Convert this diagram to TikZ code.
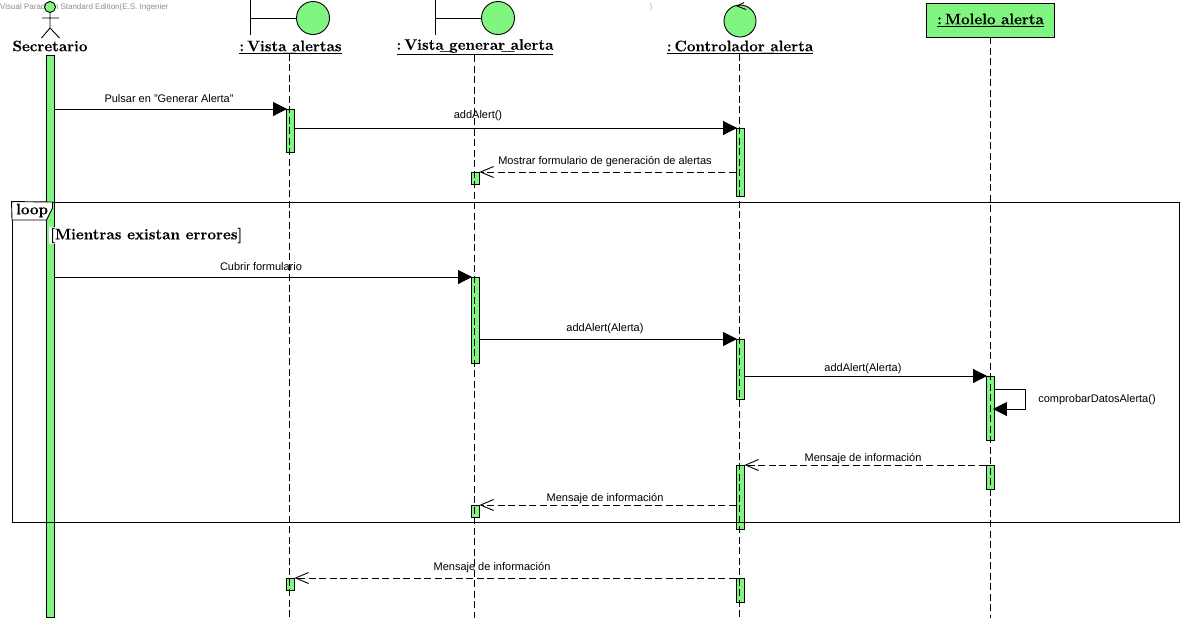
\documentclass[tikz,border=0pt]{standalone}
\usepackage{fontspec}
\setsansfont{Liberation Sans}
\newfontfamily\headfont{Latin Modern Roman}[BoldFeatures={FakeBold=0.35}]
\usepackage{xcolor}
\usetikzlibrary{positioning,calc,arrows.meta}
\definecolor{umlgreen}{HTML}{80F580}
\newcommand{\usc}{\makebox[5.5pt][c]{\smash{\_}}}
\newcommand{\colsp}{:\kern3pt}
\tikzset{
    bar/.style={draw,fill=umlgreen,line width=0.9pt,minimum width=8pt,inner sep=0pt,anchor=north},
    head/.style={inner sep=0pt,font=\headfont\bfseries\fontsize{15.2}{16}\selectfont},
    msgtext/.style={inner sep=0pt,font=\sffamily\fontsize{11}{12}\selectfont},
    lifeline/.style={dash pattern=on 7pt off 3.5pt,line width=0.9pt},
    call/.style={line width=0.9pt,-{Triangle[length=14pt,width=14pt]},shorten >=-1.5pt},
    reply/.style={line width=0.9pt,dash pattern=on 7pt off 3.5pt,-{Straight Barb[length=13pt,width=11pt]}},
    shape outline/.style={line width=0.9pt}
}
\begin{document}
\begin{tikzpicture}[x=1pt,y=-1pt]
    \useasboundingbox (0,0) rectangle (1183,622);
    % Watermark
    \node[msgtext,anchor=west,text=black!45,font=\sffamily\fontsize{8}{9}\selectfont] (mark) at (0,7) {Visual Paradigm Standard Edition(E.S. Ingenier};
    \node[msgtext,text=black!35,font=\sffamily\fontsize{8}{9}\selectfont] (markend) at (651,7) {)};

    % Secretario
    \draw[shape outline,fill=umlgreen] (50,7) circle (5.5);
    \draw[shape outline] (50,12.5) -- (50,28) (42,18) -- (59,18) (41.5,38) -- (50,28) -- (59.5,38);
    \node[head] (secretario) at (50,46) {Secretario};
    \node[bar,minimum height=562pt] (barSec) at (50,55) {};

    % Vista_alertas
    \node[circle,draw,fill=umlgreen,shape outline,minimum size=33pt,inner sep=0pt] (vaCircle) at (313,18) {};
    \coordinate (vaTop) at (250.5,0);
    \coordinate (vaEnd) at (250.5,35);
    \draw[shape outline] (vaTop) -- (vaEnd) (vaTop |- vaCircle) -- (vaCircle.west);
    \node[head] (va) at (290.5,47) {\underline{\colsp Vista\usc alertas}};

    % Vista_generar_alerta
    \node[circle,draw,fill=umlgreen,shape outline,minimum size=33pt,inner sep=0pt] (vgCircle) at (498,18) {};
    \coordinate (vgTop) at (435.5,0);
    \coordinate (vgEnd) at (435.5,35);
    \draw[shape outline] (vgTop) -- (vgEnd) (vgTop |- vgCircle) -- (vgCircle.west);
    \node[head] (vg) at (475,47) {\underline{\colsp Vista\usc generar\usc alerta}};

    % Controlador_alerta
    \node[circle,draw,fill=umlgreen,shape outline,minimum size=32pt,inner sep=0pt] (ctCircle) at (740,21) {};
    \draw[shape outline] (744,2.5) -- (737,6) -- (746,9.5);
    \node[head] (ct) at (740,47) {\underline{\colsp Controlador\usc alerta}};

    % Molelo_alerta
    \node[draw,fill=umlgreen,shape outline,minimum width=128pt,minimum height=34pt,inner sep=0pt,font=\headfont\bfseries\fontsize{15.2}{16}\selectfont] (mo) at (990.5,20) {\underline{\colsp Molelo\usc alerta}};

    % Activation bars
    \node[bar,minimum height=43pt] (barVaA) at (290,109) {};
    \node[bar,minimum height=12pt] (barVaB) at (290,578) {};
    \node[bar,minimum height=12pt] (barVgA) at (475,172) {};
    \node[bar,minimum height=86pt] (barVgB) at (475,277) {};
    \node[bar,minimum height=12pt] (barVgC) at (475,505) {};
    \node[bar,minimum height=68pt] (barCtA) at (740,128) {};
    \node[bar,minimum height=60pt] (barCtB) at (740,339) {};
    \node[bar,minimum height=64pt] (barCtC) at (740,465) {};
    \node[bar,minimum height=24pt] (barCtD) at (740,578) {};
    \node[bar,minimum height=64pt] (barMoA) at (990,376) {};
    \node[bar,minimum height=24pt] (barMoB) at (990,465) {};

    % Lifelines
    \coordinate (vaLow) at (289.5,618);
    \coordinate (vgLow) at (474.5,618);
    \coordinate (ctLow) at (739.5,618);
    \coordinate (moLow) at (990.5,618);
    \draw[lifeline] (vaLow |- va.south) -- (vaLow);
    \draw[lifeline] (vgLow |- vg.south) -- (vgLow);
    \draw[lifeline] (ctLow |- ct.south) -- (ctLow);
    \draw[lifeline] (mo.south) -- (moLow);

    % Loop frame
    \node[draw,shape outline,minimum width=1167pt,minimum height=320pt,inner sep=0pt] (loopFrame) at (595.5,362) {};
    \draw[shape outline,fill=white] (loopFrame.north west) -- (52.5,202) -- (52.5,208) -- (46.5,220) -- (12,220) -- cycle;
    \node[head,anchor=west] (loopName) at (16,210.5) {loop};
    \node[head,anchor=west,fill=white,inner ysep=1pt,inner xsep=1pt] (guard) at (49,235.5) {[Mientras existan errores]};

    % Messages
    \draw[call] (barSec.east |- barVaA.north) -- (barVaA.north west);
    \node[msgtext] (msgA) at (169,98.5) {Pulsar en "Generar Alerta"};
    \draw[call] (barVaA.east |- barCtA.north) -- (barCtA.north west);
    \node[msgtext] (msgB) at (478,115.5) {addAlert()};
    \draw[reply] (barCtA.west |- barVgA.north) -- (barVgA.north east);
    \node[msgtext] (msgC) at (605,161.5) {Mostrar formulario de generación de alertas};
    \draw[call] (barSec.east |- barVgB.north) -- (barVgB.north west);
    \node[msgtext] (msgD) at (261,267) {Cubrir formulario};
    \draw[call] (barVgB.east |- barCtB.north) -- (barCtB.north west);
    \node[msgtext] (msgE) at (605,328.5) {addAlert(Alerta)};
    \draw[call] (barCtB.east |- barMoA.north) -- (barMoA.north west);
    \node[msgtext] (msgF) at (863,368.5) {addAlert(Alerta)};
    % self call
    \coordinate (selfOut) at ($(barMoA.north east)+(0,13)$);
    \coordinate (selfIn) at ($(barMoA.north east)+(0,33)$);
    \draw[call] (selfOut) -- ++(31,0) |- (selfIn);
    \node[msgtext] (msgG) at (1097,399.5) {comprobarDatosAlerta()};
    \draw[reply] (barMoB.north west) -- (barCtC.north east);
    \node[msgtext] (msgH) at (863,458.5) {Mensaje de información};
    \draw[reply] (barCtC.west |- barVgC.north) -- (barVgC.north east);
    \node[msgtext] (msgI) at (605,498.5) {Mensaje de información};
    \draw[reply] (barCtD.north west) -- (barVaB.north east);
    \node[msgtext] (msgJ) at (492,567.5) {Mensaje de información};
\end{tikzpicture}
\end{document}
